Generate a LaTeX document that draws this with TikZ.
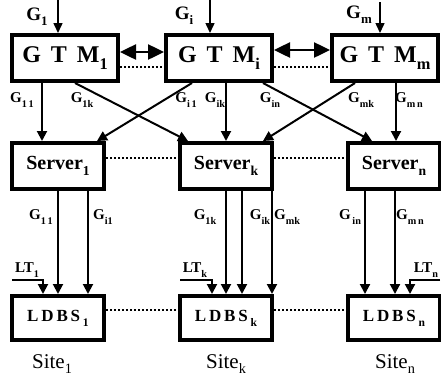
\documentclass[tikz,border=0pt]{standalone}
\usepackage{graphicx}
\usepackage{fontspec}
\setmainfont{Liberation Serif}
\usetikzlibrary{arrows.meta}
\tikzstyle{gtmbox}=[draw,line width=4pt,minimum width=106pt,minimum height=46pt,inner sep=0pt,font=\fontsize{24}{26}\selectfont\bfseries]
\tikzstyle{srvbox}=[draw,line width=4pt,minimum width=92pt,minimum height=46pt,inner sep=0pt,font=\fontsize{20}{22}\selectfont\bfseries]
\tikzstyle{dbbox}=[draw,line width=4pt,minimum width=92pt,minimum height=44pt,inner sep=0pt,font=\fontsize{17}{19}\selectfont\bfseries]
\tikzstyle{lab}=[inner sep=0pt,font=\fontsize{15}{17}\selectfont\bfseries]
\tikzstyle{toplab}=[inner sep=0pt,font=\fontsize{19}{21}\selectfont\bfseries]
\tikzstyle{sitelab}=[inner sep=0pt,font=\fontsize{21}{23}\selectfont]
\tikzstyle{feedline}=[line width=2pt,-{Triangle[length=10pt,width=10pt]}]
\tikzstyle{inarrow}=[line width=1.5pt,-{Triangle[length=10pt,width=9pt]}]
\tikzstyle{syncline}=[line width=2.5pt,{Triangle[length=16pt,width=15pt]}-{Triangle[length=16pt,width=15pt]}]
\tikzstyle{linkline}=[line width=2pt,dotted]
\newcommand{\lo}[1]{\raisebox{-0.28em}{\scalebox{0.68}{#1}}}% index set low
\newcommand{\feed}[4]{% Syntax: {from node}{x shift}{to node}{x shift}
\draw[feedline] ([xshift=#2pt]#1.south) -- ([xshift=#4pt]#3.north);
}
\begin{document}
\begin{tikzpicture}[x=1pt,y=-1pt]
\useasboundingbox (0,0) rectangle (441,381);
% global managers
\node[gtmbox] (gtm1) at (65,58) {G\ \,T\ \,M\lo{1}};
\node[gtmbox] (gtmi) at (219,58) {G\ \,T\ \,M\lo{i}};
\node[gtmbox] (gtmm) at (385,58) {G\ \,T\ \,M\lo{m}};
% servers
\node[srvbox] (srv1) at (58,166) {Server\lo{1}};
\node[srvbox] (srvk) at (226,166) {Server\lo{k}};
\node[srvbox] (srvn) at (394,166) {Server\lo{n}};
% local databases
\node[dbbox] (ldbs1) at (58,318) {L\,D\,B\,S\,\lo{1}};
\node[dbbox] (ldbsk) at (226,318) {L\,D\,B\,S\,\lo{k}};
\node[dbbox] (ldbsn) at (394,318) {L\,D\,B\,S\,\lo{n}};
\node[sitelab] (site1) at (52,364) {Site\lo{1}};
\node[sitelab] (sitek) at (226,364) {Site\lo{k}};
\node[sitelab] (siten) at (395,364) {Site\lo{n}};
% incoming transactions
\node[toplab] (g1lab) at (37,17) {G\lo{1}};
\node[toplab] (gilab) at (184,16) {G\lo{i}};
\node[toplab] (gmlab) at (359,15) {G\lo{m}};
\coordinate (g1in) at (58,0);
\coordinate (giin) at (210,0);
\coordinate (gmin) at (380,2);
\draw[inarrow] (g1in) -- (g1in |- gtm1.north);
\draw[inarrow] (giin) -- (giin |- gtmi.north);
\draw[inarrow] (gmin) -- (gmin |- gtmm.north);
\draw[syncline] ([yshift=6pt]gtm1.east) -- ([yshift=6pt]gtmi.west);
\draw[syncline] ([yshift=8pt]gtmi.east) -- ([yshift=8pt]gtmm.west);
\draw[linkline] ([yshift=-9pt]gtm1.east) -- ([yshift=-9pt]gtmi.west);
\draw[linkline] ([yshift=-9pt]gtmi.east) -- ([yshift=-9pt]gtmm.west);
% managers to servers
\feed{gtm1}{-23}{srv1}{-16}
\feed{gtm1}{10}{srvk}{-38}
\feed{gtmi}{-27}{srv1}{39}
\feed{gtmi}{7}{srvk}{0}
\feed{gtmi}{44}{srvn}{-22}
\feed{gtmm}{-30}{srvk}{37}
\feed{gtmm}{11}{srvn}{2}
\node[lab] (a11) at (22,100) {G\lo{1\,1}};
\node[lab] (a1k) at (82,100) {G\lo{1k}};
\node[lab] (ai1) at (186,100) {G\lo{i\,1}};
\node[lab] (aik) at (215,100) {G\lo{ik}};
\node[lab] (ain) at (270,100) {G\lo{in}};
\node[lab] (amk) at (361,100) {G\lo{mk}};
\node[lab] (amn) at (409,100) {G\lo{m\,n}};
\draw[linkline] ([yshift=8pt]srv1.east) -- ([yshift=8pt]srvk.west);
\draw[linkline] ([yshift=8pt]srvk.east) -- ([yshift=8pt]srvn.west);
% servers to local databases
\feed{srv1}{0}{ldbs1}{0}
\feed{srv1}{30}{ldbs1}{30}
\feed{srvk}{0}{ldbsk}{0}
\feed{srvk}{16}{ldbsk}{16}
\feed{srvk}{46}{ldbsk}{46}
\feed{srvn}{-29}{ldbsn}{-29}
\feed{srvn}{1}{ldbsn}{1}
\node[lab] (b11) at (41,217) {G\lo{1\,1}};
\node[lab] (bi1) at (103,217) {G\lo{i1}};
\node[lab] (b1k) at (205,217) {G\lo{1k}};
\node[lab] (bik) at (260,217) {G\lo{ik}};
\node[lab] (bmk) at (287,217) {G\lo{mk}};
\node[lab] (bin) at (350,217) {G\lo{\,in}};
\node[lab] (bmn) at (410,217) {G\lo{m\,n}};
% local transactions
\node[lab] (lt1) at (27,270) {LT\lo{1}};
\node[lab] (ltk) at (195,270) {LT\lo{k}};
\node[lab] (ltn) at (426,270) {LT\lo{n}};
\coordinate (lt1in) at (12,280);
\coordinate (ltkin) at (180,280);
\coordinate (ltnin) at (440,280);
\draw[feedline] (lt1in) -| ([xshift=-15pt]ldbs1.north);
\draw[feedline] (ltkin) -| ([xshift=-14pt]ldbsk.north);
\draw[feedline] (ltnin) -| ([xshift=16pt]ldbsn.north);
\draw[linkline] ([yshift=8pt]ldbs1.east) -- ([yshift=8pt]ldbsk.west);
\draw[linkline] ([yshift=8pt]ldbsk.east) -- ([yshift=8pt]ldbsn.west);
\end{tikzpicture}
\end{document}
